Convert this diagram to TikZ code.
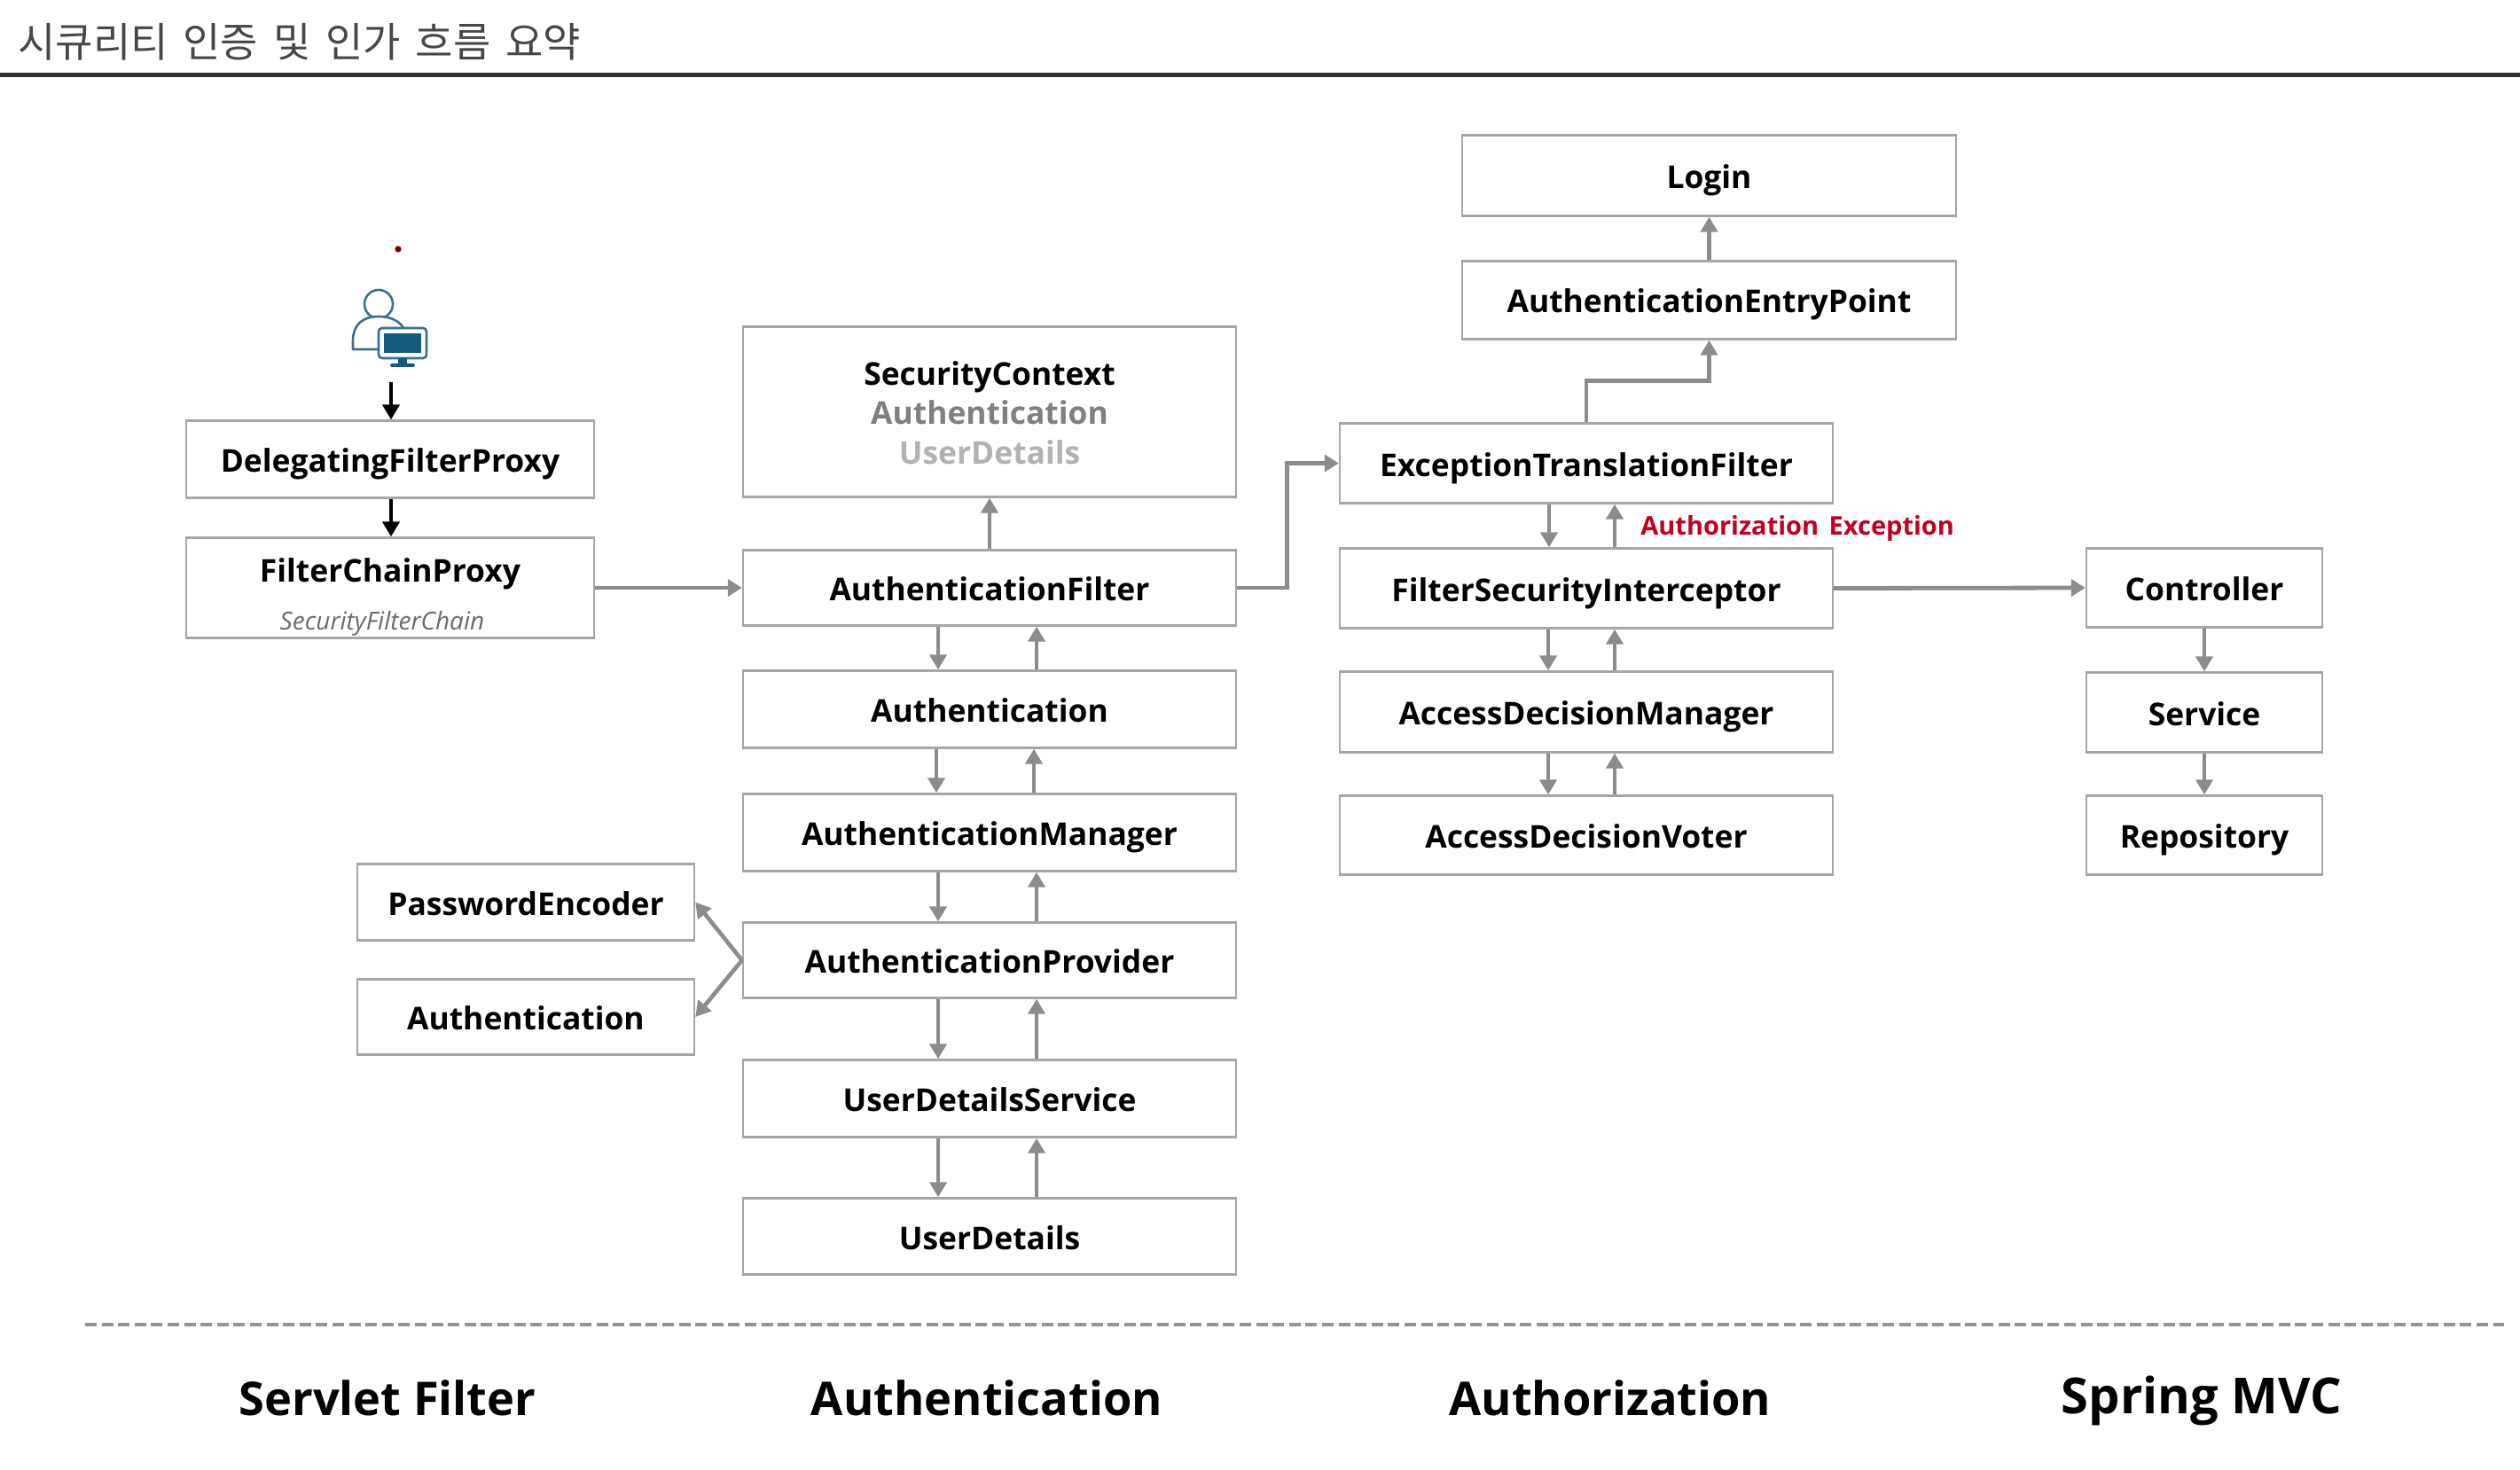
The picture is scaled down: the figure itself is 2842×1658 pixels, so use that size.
\documentclass[tikz,border=0pt]{standalone}
\usepackage{fontspec}
\usetikzlibrary{arrows.meta,calc}
\setmainfont{Open Sans}
\newfontfamily\krfont{Noto Sans CJK KR}
\definecolor{linegray}{HTML}{8C8C8C}
\definecolor{boxgray}{HTML}{A6A6A6}
\definecolor{icon}{HTML}{3E7186}
\definecolor{iconfill}{HTML}{135A7E}
\definecolor{redtxt}{HTML}{C00020}
\tikzset{
  x=0.5pt,y=-0.5pt,
  bx/.style={draw=boxgray,line width=1.2pt,fill=white,inner sep=0pt,text=black,
    text height=17pt,text depth=2.5pt,
    font=\fontsize{17.7}{22}\selectfont\bfseries,anchor=center},
  lbl/.style={inner sep=0pt,text height=17pt,text depth=2.5pt,font=\fontsize{17.7}{22}\selectfont\bfseries,anchor=center},
  garrow/.style={draw=linegray,line width=2.3pt,-{Triangle[length=8.5pt,width=9.5pt]}},
  garrowthick/.style={draw=linegray,line width=2.4pt,-{Triangle[length=8pt,width=9.5pt]}},
  barrow/.style={draw=black,line width=2.4pt,-{Triangle[length=8.5pt,width=9.5pt]}},
  sectlabel/.style={inner sep=0pt,font=\fontsize{26.2}{32}\selectfont\bfseries,anchor=center},
}
% \bxat{name}{x0}{y0}{x1}{y1}{text}
\newcommand{\bxat}[6]{\node[bx,minimum width=0.5pt*(#4-#2),minimum height=0.5pt*(#5-#3)] (#1) at ({(#2+#4)/2},{(#3+#5+1)/2}) {#6};}
\begin{document}
\begin{tikzpicture}
\useasboundingbox (0,0) rectangle (2842,1658);
% title
\node[inner sep=0pt,anchor=west,text=black!72,font=\krfont\fontsize{23}{26}\selectfont] (title) at (20,47) {시큐리티\hspace{3.3pt} 인증\hspace{3.3pt} 및\hspace{3.3pt} 인가\hspace{3.3pt} 흐름\hspace{3.3pt} 요약};
\coordinate (ruleL) at (0,84.5);
\coordinate (ruleR) at (2842,84.5);
\draw[line width=2.4pt,color=black!80] (ruleL) -- (ruleR);
% dot
\fill[color=red!45!black] (449,281) circle (1.8pt);
% user icon
\draw[icon,line width=1.3pt,line join=round] (427,343) circle (8pt);
\draw[icon,line width=1.3pt,line join=round,fill=white] (398,394) -- (398,385) .. controls (398,365) and (410,357) .. (427,357) .. controls (442,357) and (452,363) .. (456,372) -- (456,394) -- cycle;
\draw[icon,line width=1.3pt,fill=white,rounded corners=2pt] (427,370) rectangle (481,404);
\fill[iconfill] (433,376) rectangle (475,398);
\fill[iconfill] (449,404) rectangle (459,411);
\fill[iconfill,rounded corners=0.8pt] (440,410) rectangle (468,414);
\coordinate (userout) at (441,431);
% servlet filter
\bxat{dfp}{210}{474}{670}{561}{DelegatingFilterProxy}
\bxat{fcp}{210}{606}{670}{719}{}
\node[lbl] (fcpt) at (440,641.5) {FilterChainProxy};
\node[inner sep=0pt,text=black!58,font=\fontsize{14}{16}\selectfont\itshape] (sfc) at (431,703) {SecurityFilterChain};
\draw[barrow] (userout) -- (userout |- dfp.north);
\draw[barrow] (dfp.south -| userout) -- (fcp.north -| userout);
% authentication
\bxat{sc}{838}{368}{1394}{560}{}
\node[lbl] (sct) at (1116,420) {SecurityContext};
\node[lbl,text=black!50] (sca) at (1116,464) {Authentication};
\node[lbl,text=black!30] (scu) at (1116,509) {UserDetails};
\bxat{af}{838}{620}{1394}{705}{AuthenticationFilter}
\bxat{au}{838}{756}{1394}{843}{Authentication}
\bxat{am}{838}{895}{1394}{982}{AuthenticationManager}
\bxat{ap}{838}{1040}{1394}{1125}{AuthenticationProvider}
\bxat{uds}{838}{1195}{1394}{1282}{UserDetailsService}
\bxat{ud}{838}{1351}{1394}{1437}{UserDetails}
\bxat{pe}{403}{974}{783}{1060}{PasswordEncoder}
\bxat{au2}{403}{1104}{783}{1189}{Authentication}
\draw[garrow] (af.north) -- (sc.south);
\draw[garrowthick] (fcp.east |- af.west) -- (af.west);
\foreach \up/\dn/\dx/\ux in {af/au/-29/26.5, au/am/-30/25, am/ap/-29/26.5, ap/uds/-29/26.5, uds/ud/-29/26.5}{
  \draw[garrow] ([xshift=\dx pt]\up.south) -- ([xshift=\dx pt]\dn.north);
  \draw[garrow] ([xshift=\ux pt]\dn.north) -- ([xshift=\ux pt]\up.south);
}
\draw[garrow] (ap.west) -- (pe.east);
\draw[garrow] (ap.west) -- (au2.east);
% authorization
\bxat{login}{1649}{152}{2206}{243}{Login}
\bxat{aep}{1649}{294}{2206}{382}{AuthenticationEntryPoint}
\bxat{etf}{1511}{477}{2067}{567}{ExceptionTranslationFilter}
\bxat{fsi}{1511}{618}{2067}{708}{FilterSecurityInterceptor}
\bxat{adm}{1511}{757}{2067}{848}{AccessDecisionManager}
\bxat{adv}{1511}{897}{2067}{986}{AccessDecisionVoter}
\draw[garrow] (aep.north) -- (login.south);
\draw[garrow] (etf.north) -- ++(0,-47) -| (aep.south);
\draw[garrowthick] (af.east) -- ++(56,0) |- (etf.west);
\foreach \up/\dn/\dx/\ux in {etf/fsi/-21/16, fsi/adm/-21.5/16, adm/adv/-21.5/16}{
  \draw[garrow] ([xshift=\dx pt]\up.south) -- ([xshift=\dx pt]\dn.north);
  \draw[garrow] ([xshift=\ux pt]\dn.north) -- ([xshift=\ux pt]\up.south);
}
\node[inner sep=0pt,anchor=west,text=redtxt,font=\fontsize{14.5}{17}\selectfont\bfseries] (exc) at (1850,596) {Authorization\hspace{2pt} Exception};
% spring mvc
\bxat{ctl}{2353}{618}{2619}{707}{Controller}
\bxat{svc}{2353}{758}{2619}{848}{Service}
\bxat{rep}{2353}{897}{2619}{986}{Repository}
\draw[garrowthick] (fsi.east) -- (ctl.west);
\draw[garrow] (ctl.south) -- (svc.north);
\draw[garrow] (svc.south) -- (rep.north);
% bottom
\coordinate (dashL) at (96,1494);
\coordinate (dashR) at (2824,1494);
\draw[color=black!42,line width=2pt,dash pattern=on 6.5pt off 2.8pt] (dashL) -- (dashR);
\node[sectlabel] (s1) at (437,1577) {Servlet Filter};
\node[sectlabel] (s2) at (1113,1577) {Authentication};
\node[sectlabel] (s3) at (1816,1577) {Authorization};
\node[sectlabel,font=\fontsize{28}{32}\selectfont\bfseries] (s4) at (2483,1580) {Spring MVC};
\end{tikzpicture}
\end{document}
